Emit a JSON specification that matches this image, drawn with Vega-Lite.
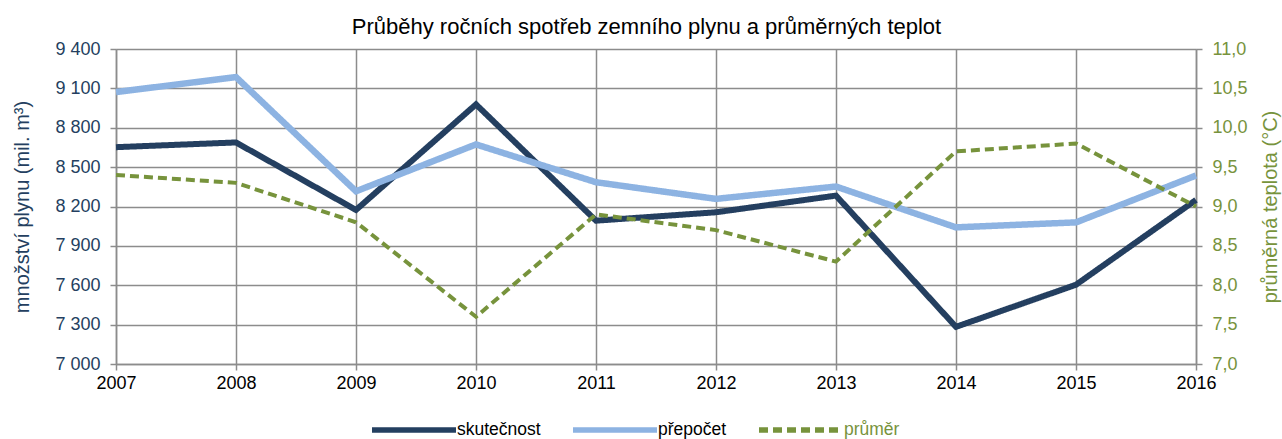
{
  "$schema": "https://vega.github.io/schema/vega-lite/v6.json",
  "width": 1080,
  "height": 315,
  "autosize": {"type": "none"},
  "padding": {"left": 116, "top": 49, "right": 86, "bottom": 75},
  "background": "white",
  "title": {
    "text": "Průběhy ročních spotřeb zemního plynu a průměrných teplot",
    "font": "Liberation Sans",
    "fontSize": 22,
    "fontWeight": "normal",
    "color": "#000000",
    "anchor": "middle",
    "frame": "bounds",
    "offset": 1
  },
  "config": {
    "view": {"stroke": null},
    "font": "Liberation Sans",
    "axis": {
      "labelFont": "Liberation Sans",
      "titleFont": "Liberation Sans",
      "labelFontSize": 18,
      "titleFontSize": 20,
      "titleFontWeight": "normal",
      "labelOverlap": false,
      "domainColor": "#8c8c8c",
      "domainWidth": 1.5,
      "tickColor": "#8c8c8c",
      "tickWidth": 1.5,
      "tickSize": 6,
      "gridColor": "#8c8c8c",
      "gridWidth": 1.5,
      "gridOpacity": 1
    }
  },
  "data": {
    "values": [
      {"year": 2007, "skutečnost": 8652, "přepočet": 9072, "průměr": 9.4},
      {"year": 2008, "skutečnost": 8688, "přepočet": 9186, "průměr": 9.3},
      {"year": 2009, "skutečnost": 8174, "přepočet": 8316, "průměr": 8.8},
      {"year": 2010, "skutečnost": 8978, "přepočet": 8673, "průměr": 7.6},
      {"year": 2011, "skutečnost": 8092, "přepočet": 8385, "průměr": 8.9},
      {"year": 2012, "skutečnost": 8156, "přepočet": 8258, "průměr": 8.7},
      {"year": 2013, "skutečnost": 8283, "přepočet": 8352, "průměr": 8.3},
      {"year": 2014, "skutečnost": 7283, "přepočet": 8041, "průměr": 9.7},
      {"year": 2015, "skutečnost": 7604, "přepočet": 8079, "průměr": 9.8},
      {"year": 2016, "skutečnost": 8250, "přepočet": 8436, "průměr": 9.0}
    ]
  },
  "encoding": {
    "x": {
      "field": "year",
      "type": "quantitative",
      "scale": {"domain": [2007, 2016], "nice": false, "zero": false},
      "axis": {
        "title": null,
        "values": [2007, 2008, 2009, 2010, 2011, 2012, 2013, 2014, 2015, 2016],
        "format": "d",
        "labelColor": "#000000",
        "labelPadding": 4,
        "labelFlush": false,
        "grid": true
      }
    },
    "color": {
      "field": "series",
      "type": "nominal",
      "scale": {"domain": ["skutečnost", "přepočet", "průměr"], "range": ["#243F60", "#8DB3E2", "#77933C"]},
      "legend": {
        "title": null,
        "orient": "none",
        "legendX": 253,
        "legendY": 336,
        "direction": "horizontal",
        "symbolType": "stroke",
        "symbolSize": 7056,
        "symbolStrokeWidth": 5.5,
        "labelFont": "Liberation Sans",
        "labelFontSize": 17.5,
        "labelOffset": -2,
        "columnPadding": 21,
        "encode": {
          "labels": {"update": {"fill": {"signal": "datum.value === 'průměr' ? '#77933C' : '#000000'"}}}
        }
      }
    },
    "strokeDash": {
      "field": "series",
      "type": "nominal",
      "scale": {"domain": ["skutečnost", "přepočet", "průměr"], "range": [[1, 0], [1, 0], [9, 5]]},
      "legend": null
    }
  },
  "layer": [
    {
      "encoding": {
        "y": {
          "field": "value",
          "type": "quantitative",
          "scale": {"domain": [7000, 9400], "nice": false, "zero": false},
          "axis": {
            "orient": "left",
            "title": "množství plynu (mil. m³)",
            "values": [7000, 7300, 7600, 7900, 8200, 8500, 8800, 9100, 9400],
            "labelExpr": "replace(format(datum.value, ','), ',', ' ')",
            "labelColor": "#243F60",
            "titleColor": "#243F60",
            "labelPadding": 10,
            "titlePadding": 22,
            "grid": true
          }
        }
      },
      "layer": [
        {
          "transform": [{"fold": ["skutečnost"], "as": ["series", "value"]}],
          "mark": {"type": "line", "strokeWidth": 6, "strokeJoin": "miter"}
        },
        {
          "transform": [{"fold": ["přepočet"], "as": ["series", "value"]}],
          "mark": {"type": "line", "strokeWidth": 6.5, "strokeJoin": "miter"}
        }
      ]
    },
    {
      "transform": [{"fold": ["průměr"], "as": ["series", "value"]}],
      "mark": {"type": "line", "strokeWidth": 4},
      "encoding": {
        "y": {
          "field": "value",
          "type": "quantitative",
          "scale": {"domain": [7, 11], "nice": false, "zero": false},
          "axis": {
            "orient": "right",
            "title": "průměrná teplota (°C)",
            "values": [7, 7.5, 8, 8.5, 9, 9.5, 10, 10.5, 11],
            "labelExpr": "replace(format(datum.value, '.1f'), '.', ',')",
            "labelColor": "#77933C",
            "titleColor": "#77933C",
            "titleAngle": 270,
            "titleBaseline": "top",
            "labelPadding": 10,
            "titlePadding": 13,
            "grid": false
          }
        }
      }
    }
  ],
  "resolve": {"scale": {"y": "independent"}}
}
